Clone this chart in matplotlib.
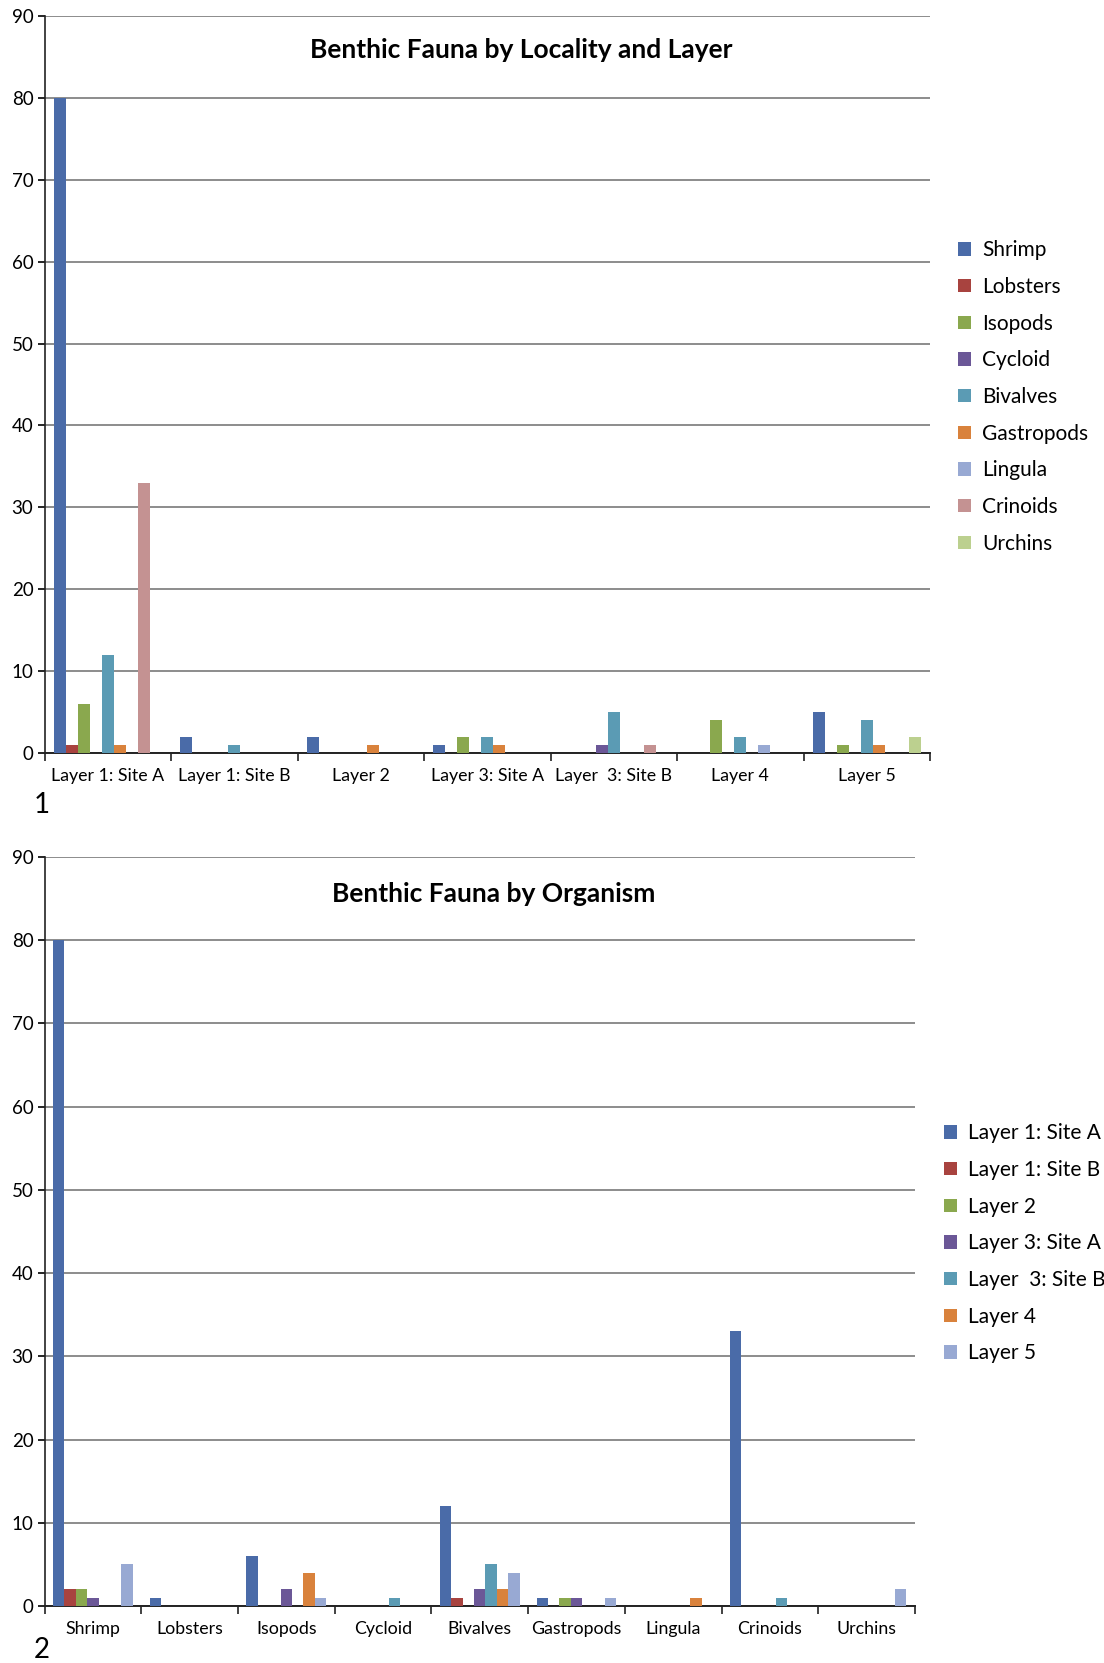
import matplotlib

matplotlib.use("Agg")
import matplotlib.pyplot as plt
import numpy as np

plt.rcParams["font.family"] = ["Lato", "DejaVu Sans"]

W, H = 1104, 1663

layers = ["Layer 1: Site A", "Layer 1: Site B", "Layer 2", "Layer 3: Site A",
          "Layer  3: Site B", "Layer 4", "Layer 5"]
organisms = ["Shrimp", "Lobsters", "Isopods", "Cycloid", "Bivalves",
             "Gastropods", "Lingula", "Crinoids", "Urchins"]

# counts per organism, one value per layer (same order as `layers`)
shrimp = [80, 2, 2, 1, 0, 0, 5]
lobsters = [1, 0, 0, 0, 0, 0, 0]
isopods = [6, 0, 0, 2, 0, 4, 1]
cycloid = [0, 0, 0, 0, 1, 0, 0]
bivalves = [12, 1, 0, 2, 5, 2, 4]
gastropods = [1, 0, 1, 1, 0, 0, 1]
lingula = [0, 0, 0, 0, 0, 1, 0]
crinoids = [33, 0, 0, 0, 1, 0, 0]
urchins = [0, 0, 0, 0, 0, 0, 2]

org_colors = ["#4a6ba8", "#a8433f", "#8aa84e", "#6b5797", "#5b9bb4",
              "#d9823c", "#98a9d3", "#c49292", "#bcd08f"]

counts = np.array([shrimp, lobsters, isopods, cycloid, bivalves,
                   gastropods, lingula, crinoids, urchins], dtype=float)


def px_axes(fig, left, top, right, bottom):
    return fig.add_axes([left / W, 1 - bottom / H, (right - left) / W, (bottom - top) / H])


def clustered(ax, cats, series_names, values, colors, title, title_xy, legend_xy):
    n_cat, n_ser = len(cats), len(series_names)
    gap = 1.5
    bw = 1.0 / (n_ser + gap)
    x0 = np.arange(n_cat) + gap * bw / 2
    for j, name in enumerate(series_names):
        ax.bar(x0 + j * bw, values[j], bw, align="edge", color=colors[j],
               label=name, linewidth=0, zorder=3)
    ax.set_xlim(0, n_cat)
    ax.set_ylim(0, 90)
    ax.set_yticks(range(0, 91, 10))
    ax.yaxis.grid(True, color="#8c8c8c", linewidth=1.4, zorder=0)
    ax.set_xticks(range(n_cat + 1))
    ax.set_xticklabels([])
    ax.set_xticks(np.arange(n_cat) + 0.5, minor=True)
    ax.set_xticklabels(cats, minor=True, fontsize=12.8)
    ax.tick_params(axis="x", which="major", length=6, width=1.2, color="#222222")
    ax.tick_params(axis="x", which="minor", length=0, pad=11)
    ax.tick_params(axis="y", length=5, width=1.2, labelsize=13.5, pad=3)
    for s in ("top", "right"):
        ax.spines[s].set_visible(False)
    ax.spines["left"].set_color("#222222")
    ax.spines["bottom"].set_color("#222222")
    ax.spines["left"].set_linewidth(1.2)
    ax.spines["bottom"].set_linewidth(1.4)
    ax.text(title_xy[0], title_xy[1], title, transform=ax.transAxes,
            ha="center", va="center", fontsize=19, fontweight="bold")
    ax.legend(loc="upper left", bbox_to_anchor=legend_xy, bbox_transform=ax.figure.transFigure,
              frameon=False, fontsize=15, handlelength=0.6, handleheight=0.6,
              handletextpad=0.55, labelspacing=0.8, borderpad=0)


fig = plt.figure(figsize=(W / 100, H / 100), dpi=100)

ax1 = px_axes(fig, 44.5, 16, 930, 753)
clustered(ax1, layers, organisms, counts, org_colors,
          "Benthic Fauna by Locality and Layer", (0.538, 0.954),
          (948 / W, 1 - 230 / H))

ax2 = px_axes(fig, 44.5, 857, 915, 1606)
clustered(ax2, organisms, layers, counts.T, org_colors[:7],
          "Benthic Fauna by Organism", (0.516, 0.951),
          (934 / W, 1 - 1113 / H))

fig.text(34 / W, 1 - 805 / H, "1", fontsize=20, va="center", ha="left")
fig.text(34 / W, 1 - 1650 / H, "2", fontsize=20, va="center", ha="left")

fig.savefig("out.png", dpi=100)
